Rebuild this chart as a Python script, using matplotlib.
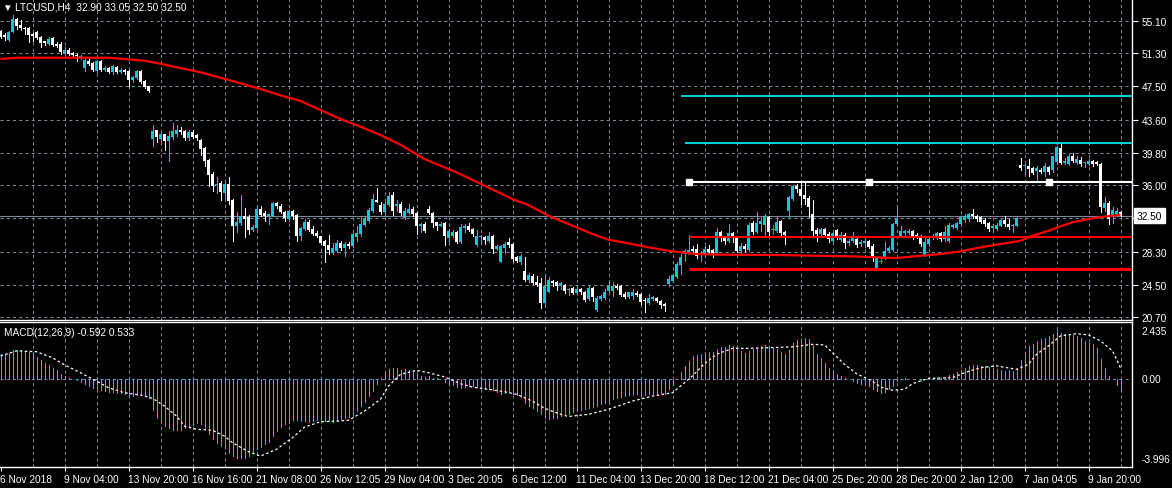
import numpy as np
import matplotlib
matplotlib.use("Agg")
import matplotlib.pyplot as plt
from matplotlib.patches import Rectangle

# ---------------- data (LTCUSD H4) ----------------
opens = [53.95, 53.45, 52.90, 53.83, 55.30, 54.60, 54.29, 54.29, 53.56, 53.75,
         53.17, 52.71, 52.44, 53.06, 52.44, 52.44, 51.36, 51.74, 51.36, 51.16,
         50.82, 49.58, 50.47, 50.16, 49.31, 50.47, 49.42, 49.58, 49.11, 49.77,
         49.19, 49.35, 49.27, 48.19, 48.50, 49.31, 48.15, 47.49, 41.38, 42.39,
         41.38, 41.92, 41.19, 41.58, 41.92, 42.47, 42.31, 41.46, 42.23, 41.85,
         41.31, 40.30, 38.99, 37.36, 36.05, 36.28, 35.12, 36.16, 34.34, 31.33,
         31.64, 32.49, 32.33, 30.86, 31.10, 33.26, 32.76, 32.49, 32.49, 33.96,
         33.65, 32.95, 32.10, 33.03, 32.57, 30.17, 30.94, 31.79, 30.94, 30.48,
         30.09, 29.55, 29.09, 28.16, 28.39, 29.32, 28.70, 29.24, 28.93, 29.97,
         30.36, 31.41, 31.91, 33.07, 34.31, 33.73, 32.95, 33.73, 34.89, 33.57,
         33.84, 32.18, 32.80, 33.26, 32.80, 31.25, 31.56, 33.26, 32.80, 31.72,
         31.33, 31.64, 29.94, 30.09, 30.63, 29.47, 31.02, 31.33, 30.94, 29.09,
         30.01, 30.01, 29.59, 30.17, 28.62, 27.15, 28.70, 29.40, 29.20, 27.65,
         27.08, 26.11, 25.06, 25.53, 24.83, 24.68, 22.36, 23.67, 24.91, 24.83,
         24.29, 24.45, 23.83, 24.06, 23.52, 23.98, 23.67, 22.82, 24.14, 21.59,
         22.82, 22.98, 23.79, 23.79, 24.37, 24.29, 23.40, 23.05, 23.21, 23.52,
         23.40, 22.74, 22.36, 22.82, 22.98, 22.59, 22.20, 24.56, 24.95, 25.33,
         26.80, 28.04, 28.12, 28.62, 28.62, 27.97, 27.97, 28.62, 28.51, 28.12,
         30.55, 29.97, 29.59, 30.44, 30.05, 28.35, 29.01, 28.51, 31.60, 30.55,
         31.52, 31.44, 32.29, 30.94, 30.75, 31.83, 30.55, 33.07, 34.42, 35.97,
         35.58, 34.92, 34.54, 32.68, 30.83, 30.36, 30.94, 30.36, 29.59, 30.83,
         29.67, 30.28, 29.28, 29.51, 29.78, 29.20, 29.36, 29.51, 29.01, 26.42,
         27.27, 27.65, 28.43, 28.51, 31.52, 30.17, 30.48, 30.48, 30.75, 30.25,
         30.09, 27.93, 29.20, 29.94, 29.98, 30.48, 29.78, 29.59, 31.14, 31.10,
         31.52, 32.02, 32.10, 32.68, 32.49, 32.29, 32.02, 31.64, 31.02, 30.94,
         31.33, 32.02, 31.52, 31.25, 31.33, 38.36, 38.21, 38.29, 37.98, 37.71,
         37.82, 37.51, 38.09, 37.82, 38.67, 40.30, 38.60, 38.48, 39.45, 38.60,
         38.98, 38.60, 38.48, 38.87, 38.67, 38.48, 33.34, 33.96, 32.29, 32.68,
         32.90]
highs = [54.06, 53.68, 53.95, 55.76, 55.38, 55.22, 54.33, 54.33, 53.68, 53.91,
         53.29, 52.79, 53.21, 53.21, 52.59, 52.59, 52.01, 51.98, 51.51, 51.24,
         51.13, 50.66, 50.66, 50.27, 50.58, 50.55, 49.81, 49.73, 49.97, 49.89,
         49.66, 49.50, 49.35, 48.73, 49.35, 49.39, 48.26, 47.57, 43.01, 42.47,
         42.31, 42.00, 42.31, 43.24, 43.01, 42.77, 42.47, 42.47, 42.39, 42.00,
         41.38, 40.42, 39.06, 37.52, 36.94, 36.55, 36.28, 36.94, 34.42, 32.87,
         34.89, 33.34, 32.57, 31.41, 33.57, 33.57, 33.03, 32.72, 34.04, 34.11,
         33.80, 33.03, 33.11, 33.18, 32.68, 31.14, 32.10, 32.02, 31.33, 30.71,
         30.17, 29.71, 30.25, 29.32, 29.71, 29.55, 29.47, 29.40, 30.48, 31.25,
         32.29, 32.41, 33.34, 35.00, 35.66, 34.04, 34.11, 35.20, 35.27, 34.34,
         34.04, 33.34, 33.84, 33.46, 32.95, 31.64, 31.72, 33.65, 32.95, 31.79,
         31.79, 31.79, 30.94, 30.79, 30.71, 31.52, 31.52, 31.64, 31.02, 30.86,
         30.25, 30.09, 30.56, 30.25, 29.09, 29.09, 29.40, 29.86, 29.32, 27.85,
         28.04, 27.65, 25.84, 25.68, 25.45, 25.22, 25.72, 25.33, 24.99, 24.95,
         24.76, 24.56, 24.14, 24.21, 24.29, 24.14, 23.79, 24.29, 24.21, 23.13,
         23.29, 23.98, 24.83, 24.76, 24.56, 24.45, 23.59, 23.67, 23.98, 23.79,
         23.52, 22.98, 23.40, 23.21, 23.09, 22.74, 22.36, 25.45, 25.72, 27.15,
         28.04, 28.62, 30.28, 29.01, 29.20, 28.35, 29.01, 29.12, 28.62, 31.06,
         30.75, 30.17, 31.52, 30.55, 30.17, 29.28, 29.20, 31.60, 31.91, 32.87,
         32.29, 32.68, 32.49, 31.44, 32.29, 31.98, 30.75, 34.81, 36.08, 36.16,
         36.24, 36.35, 34.77, 34.31, 31.06, 31.02, 31.06, 30.55, 30.55, 30.90,
         30.55, 30.44, 29.78, 30.55, 29.97, 29.67, 29.78, 29.67, 29.20, 27.73,
         27.58, 29.39, 29.01, 31.60, 33.38, 31.33, 30.87, 30.94, 30.87, 30.48,
         30.25, 29.98, 29.98, 30.32, 30.63, 30.63, 31.33, 31.64, 31.52, 31.79,
         32.41, 32.68, 32.80, 33.26, 32.57, 32.41, 32.18, 31.79, 31.52, 31.64,
         32.18, 32.41, 32.10, 31.52, 32.29, 39.14, 38.60, 39.06, 38.09, 38.21,
         37.98, 38.60, 38.29, 39.45, 40.61, 40.80, 39.14, 39.64, 39.76, 39.37,
         39.25, 38.75, 39.06, 38.98, 38.87, 38.56, 34.61, 34.23, 33.46, 33.34,
         33.05]
lows = [53.06, 52.90, 52.79, 53.75, 54.14, 54.06, 53.56, 52.59, 52.79, 52.98,
        52.01, 52.32, 52.28, 52.13, 52.01, 51.24, 51.24, 51.13, 50.97, 50.47,
        50.66, 49.31, 49.97, 49.27, 49.11, 49.27, 49.27, 49.04, 48.88, 49.04,
        49.04, 48.92, 47.49, 48.03, 48.34, 47.88, 47.30, 46.87, 40.61, 41.00,
        41.19, 40.15, 38.83, 41.38, 41.77, 42.00, 41.31, 41.31, 41.46, 41.31,
        39.53, 38.21, 35.97, 35.39, 35.12, 34.35, 34.42, 33.84, 29.59, 30.63,
        31.41, 29.97, 30.36, 30.75, 30.94, 32.49, 31.91, 31.56, 32.41, 33.34,
        32.80, 31.91, 31.87, 32.10, 29.59, 29.63, 30.79, 30.71, 30.25, 30.01,
        29.20, 27.15, 28.00, 28.00, 28.24, 28.55, 27.85, 28.70, 28.82, 29.59,
        30.09, 31.25, 31.79, 32.95, 34.04, 32.68, 32.49, 33.57, 32.57, 33.07,
        32.57, 32.10, 32.68, 32.49, 30.36, 30.56, 30.63, 32.68, 31.14, 30.79,
        31.25, 29.09, 29.59, 29.97, 29.32, 29.32, 30.56, 30.75, 30.17, 29.01,
        29.40, 29.20, 29.40, 28.16, 28.55, 27.08, 28.16, 28.81, 27.27, 27.08,
        26.88, 24.95, 24.83, 24.52, 24.29, 21.82, 22.24, 23.59, 24.37, 23.90,
        23.98, 23.52, 23.29, 23.40, 23.40, 23.44, 22.63, 22.74, 22.63, 21.47,
        22.74, 22.82, 23.67, 23.13, 23.98, 23.13, 22.90, 22.98, 22.82, 23.13,
        22.24, 21.27, 22.28, 22.74, 22.44, 21.82, 21.43, 24.29, 24.76, 25.22,
        25.72, 27.27, 28.04, 28.04, 27.58, 27.27, 27.81, 28.04, 27.73, 27.97,
        29.59, 29.20, 29.43, 29.40, 28.24, 28.20, 28.35, 28.35, 30.36, 30.44,
        30.75, 30.17, 30.17, 30.36, 30.59, 30.28, 29.20, 32.37, 34.31, 35.20,
        33.84, 33.84, 32.29, 30.17, 29.59, 30.17, 30.17, 29.40, 29.40, 29.74,
        29.51, 28.74, 29.12, 29.40, 28.89, 29.01, 28.89, 28.74, 27.19, 26.30,
        27.04, 27.46, 28.35, 28.35, 31.44, 29.97, 30.25, 30.36, 29.78, 29.86,
        29.01, 27.85, 29.01, 29.78, 29.78, 29.59, 29.59, 29.47, 31.02, 30.94,
        31.33, 31.72, 31.91, 32.18, 31.87, 31.64, 31.33, 30.75, 30.56, 30.87,
        31.25, 31.33, 30.94, 30.63, 31.25, 37.82, 37.32, 37.05, 37.32, 36.55,
        37.44, 37.13, 37.32, 37.59, 38.48, 38.48, 38.48, 38.36, 38.67, 38.48,
        38.29, 38.10, 38.36, 38.21, 38.36, 32.87, 33.07, 31.52, 31.64, 32.41,
        32.50]
closes = [53.17, 53.17, 53.83, 55.30, 54.53, 54.22, 54.14, 53.45, 53.37, 53.14,
          52.52, 52.52, 52.98, 52.28, 52.21, 51.51, 51.74, 51.24, 51.13, 50.97,
          51.05, 50.58, 50.08, 49.39, 50.47, 49.42, 49.58, 49.19, 49.81, 49.19,
          49.39, 49.19, 48.26, 48.57, 49.27, 48.03, 47.41, 46.99, 42.35, 41.62,
          41.92, 41.15, 41.77, 42.31, 42.47, 42.16, 41.46, 42.23, 41.62, 41.46,
          40.22, 38.87, 37.21, 35.97, 36.16, 35.27, 36.16, 34.23, 31.33, 31.79,
          32.49, 32.10, 30.86, 31.17, 33.26, 32.57, 32.49, 32.64, 33.96, 33.57,
          32.87, 32.18, 33.03, 32.49, 30.17, 31.02, 31.79, 30.86, 30.40, 30.17,
          29.32, 28.93, 28.55, 28.70, 29.32, 28.70, 29.24, 28.93, 30.36, 30.48,
          31.52, 32.10, 33.15, 34.42, 34.11, 32.87, 33.84, 34.81, 33.07, 33.84,
          32.80, 33.07, 33.26, 32.68, 31.25, 31.52, 30.71, 32.80, 31.64, 31.25,
          31.52, 30.09, 30.71, 30.63, 29.47, 31.17, 31.25, 30.86, 30.32, 30.17,
          30.17, 29.70, 30.17, 28.62, 28.93, 29.01, 29.24, 29.09, 27.46, 27.27,
          27.77, 25.06, 25.61, 24.68, 24.45, 22.36, 24.29, 25.06, 24.68, 24.29,
          24.68, 23.75, 23.98, 23.52, 23.98, 23.59, 22.74, 24.14, 23.02, 22.98,
          23.21, 23.67, 24.29, 24.37, 24.14, 23.29, 23.05, 23.59, 23.67, 23.29,
          22.51, 22.59, 22.98, 23.05, 22.59, 22.13, 22.05, 25.14, 25.61, 26.92,
          27.65, 28.35, 28.51, 28.35, 27.85, 28.12, 28.62, 28.24, 28.12, 30.55,
          30.05, 29.59, 30.44, 30.05, 28.35, 29.01, 28.62, 31.44, 30.55, 31.60,
          31.83, 32.49, 30.55, 30.94, 31.71, 30.44, 30.28, 34.61, 35.97, 35.58,
          34.81, 34.42, 33.53, 30.75, 30.36, 30.94, 30.28, 29.78, 30.44, 29.90,
          30.28, 29.28, 29.51, 29.90, 29.12, 29.47, 29.59, 28.89, 27.73, 27.58,
          27.27, 28.43, 28.74, 31.52, 32.10, 30.75, 30.75, 30.75, 30.17, 30.09,
          29.20, 29.47, 29.78, 30.17, 30.48, 29.78, 30.56, 31.41, 31.41, 31.64,
          32.29, 32.41, 32.68, 32.41, 32.10, 31.79, 31.52, 30.94, 31.33, 31.41,
          32.02, 31.52, 31.14, 31.41, 32.18, 37.98, 38.36, 37.90, 37.44, 37.98,
          37.59, 38.21, 37.59, 39.37, 40.41, 38.60, 38.87, 39.45, 38.87, 39.06,
          38.48, 38.67, 38.87, 38.48, 38.44, 33.46, 33.96, 32.10, 33.18, 33.07,
          32.50]

# moving average (read at vertices)
ma_bars = [0, 4, 27, 32, 36, 40, 45, 50, 55, 60, 65, 70, 75, 80, 85, 90, 95, 100,
           106, 114, 128, 132, 137, 144, 148, 152, 157, 162, 167, 170, 174, 181,
           194, 204, 213, 219, 224, 230, 235, 240, 245, 250, 255, 258, 262, 265,
           268, 272, 275, 280]
ma_vals = [50.66, 50.81, 50.81, 50.62, 50.46, 50.11, 49.61, 49.12, 48.49, 47.84,
           47.18, 46.45, 45.79, 44.74, 43.70, 42.81, 41.84, 40.72, 39.06, 37.52,
           34.42, 33.72, 32.48, 31.14, 30.36, 29.70, 29.28, 28.82, 28.42, 28.24,
           28.04, 27.96, 27.93, 27.84, 27.77, 27.66, 27.58, 27.84, 28.04, 28.35,
           28.82, 29.20, 29.58, 30.16, 30.74, 31.25, 31.72, 32.10, 32.33, 32.60]

# MACD histogram (main line) per bar
macd_hist = [1.21, 1.24, 1.29, 1.41, 1.44, 1.41, 1.38, 1.31, 1.21, 1.08,
             0.91, 0.79, 0.68, 0.54, 0.41, 0.24, 0.13, 0.01, -0.04, -0.09,
             -0.16, -0.29, -0.38, -0.46, -0.54, -0.59, -0.63, -0.66, -0.69, -0.71,
             -0.73, -0.76, -0.83, -0.86, -0.83, -0.76, -0.83, -0.96, -1.59, -1.96,
             -2.13, -2.38, -2.49, -2.59, -2.59, -2.56, -2.46, -2.43, -2.33, -2.21,
             -2.29, -2.49, -2.76, -3.04, -3.21, -3.38, -3.49, -3.71, -3.88, -3.96,
             -3.996, -3.96, -3.88, -3.71, -3.54, -3.43, -3.29, -3.16, -2.88, -2.63,
             -2.43, -2.29, -2.21, -2.09, -2.09, -2.13, -2.13, -2.16, -2.13, -2.09,
             -2.09, -2.13, -2.13, -2.16, -2.13, -2.04, -1.99, -1.93, -1.79, -1.63,
             -1.38, -1.16, -0.88, -0.63, -0.26, 0.01, 0.38, 0.46, 0.54, 0.51,
             0.41, 0.46, 0.41, 0.38, 0.24, 0.13, 0.08, 0.13, 0.04, 0.01,
             -0.04, -0.16, -0.26, -0.33, -0.43, -0.46, -0.43, -0.38, -0.38, -0.43,
             -0.46, -0.54, -0.54, -0.59, -0.66, -0.76, -0.71, -0.66, -0.76, -0.83,
             -0.93, -1.21, -1.38, -1.49, -1.63, -1.79, -1.96, -2.04, -1.99, -1.96,
             -1.88, -1.79, -1.76, -1.66, -1.63, -1.59, -1.54, -1.49, -1.43, -1.38,
             -1.29, -1.21, -1.13, -1.04, -0.99, -0.93, -0.88, -0.83, -0.83, -0.79,
             -0.83, -0.83, -0.79, -0.76, -0.76, -0.71, -0.76, -0.54, -0.33, 0.00,
             0.34, 0.63, 0.88, 1.13, 1.18, 1.21, 1.29, 1.34, 1.34, 1.46,
             1.58, 1.58, 1.68, 1.63, 1.54, 1.38, 1.29, 1.38, 1.46, 1.54,
             1.63, 1.68, 1.58, 1.51, 1.46, 1.34, 1.21, 1.41, 1.79, 1.91,
             1.96, 2.04, 1.96, 1.68, 1.24, 1.04, 0.79, 0.54, 0.41, 0.24,
             0.13, 0.04, -0.04, -0.13, -0.21, -0.26, -0.29, -0.38, -0.54, -0.63,
             -0.71, -0.66, -0.54, -0.38, -0.13, -0.04, 0.01, 0.00, -0.02, -0.03,
             -0.05, -0.03, 0.00, 0.02, 0.05, 0.05, 0.10, 0.18, 0.24, 0.34,
             0.41, 0.51, 0.63, 0.68, 0.68, 0.63, 0.63, 0.58, 0.54, 0.46,
             0.41, 0.38, 0.41, 0.38, 0.46, 0.91, 1.29, 1.63, 1.71, 1.88,
             1.96, 2.04, 2.13, 2.21, 2.435, 2.29, 2.24, 2.21, 2.18, 2.13,
             2.04, 1.88, 1.79, 1.71, 1.54, 0.96, 0.54, 0.13, -0.04, -0.33,
             -0.592]

# MACD signal line (read at vertices)
signal_bars = [0, 4, 9, 13, 16, 20, 24, 27, 31, 35, 38, 41, 44, 46, 49, 53, 56, 58,
               62, 65, 69, 73, 76, 80, 84, 87, 91, 95, 97, 100, 104, 107, 111, 115,
               118, 122, 126, 129, 133, 136, 140, 142, 147, 152, 158, 163, 168, 170,
               173, 176, 179, 183, 187, 192, 198, 203, 206, 208, 211, 214, 218, 220,
               223, 226, 228, 232, 238, 241, 245, 249, 254, 257, 259, 262, 265, 269,
               272, 275, 278, 280]
signal_vals = [1.13, 1.38, 1.34, 1.04, 0.68, 0.29, -0.13, -0.46, -0.71, -0.83,
               -0.99, -1.38, -1.88, -2.38, -2.54, -2.59, -2.88, -3.21, -3.66, -3.88,
               -3.54, -2.96, -2.43, -2.16, -2.13, -2.09, -1.63, -1.04, -0.38, 0.21,
               0.41, 0.29, 0.08, -0.26, -0.43, -0.54, -0.66, -0.79, -1.13, -1.49,
               -1.79, -1.90, -1.79, -1.54, -1.13, -0.88, -0.71, -0.38, 0.13, 0.74,
               1.21, 1.51, 1.51, 1.54, 1.58, 1.71, 1.68, 1.29, 0.71, 0.24,
               -0.13, -0.43, -0.59, -0.54, -0.26, 0.01, 0.04, 0.29, 0.54, 0.63,
               0.46, 0.71, 1.21, 1.63, 2.13, 2.24, 2.18, 1.88, 1.38, 0.533]

# horizontal objects
cyan_levels = [46.40, 40.93]
cyan_start = [170, 171]
white_level = 36.45
white_start = 172
white_anchor_bars = [172, 217, 262]
red_levels = [30.05, 26.26]
red_widths = [1.5, 2.2]
red_start = 172
last_price = 32.50

price_ticks = [55.10, 51.30, 47.50, 43.60, 39.80, 36.00, 32.20, 28.30, 24.50, 20.70]
price_labels = ["55.10", "51.30", "47.50", "43.60", "39.80", "36.00", "", "28.30", "24.50", "20.70"]
macd_ticks = [2.435, 0.0, -3.996]
macd_labels = ["2.435", "0.00", "-3.996"]
time_tick_bars = [0, 16, 32, 48, 64, 80, 96, 112, 128, 144, 160, 176, 192, 208, 224, 240, 256, 272]
time_labels = ["6 Nov 2018", "9 Nov 04:00", "13 Nov 20:00", "16 Nov 16:00", "21 Nov 08:00",
               "26 Nov 12:05", "29 Nov 04:00", "3 Dec 20:05", "6 Dec 12:00", "11 Dec 04:00",
               "13 Dec 20:00", "18 Dec 12:00", "21 Dec 04:00", "25 Dec 20:00", "28 Dec 20:00",
               "2 Jan 12:00", "7 Jan 04:05", "9 Jan 20:00"]

# ---------------- styling ----------------
W, H = 1172, 489
BULL = '#00CED1'
BEAR = '#FFFFFF'
DOJI = '#00C000'
GRID = '#778899'
FONT = ['Liberation Sans', 'DejaVu Sans']
plt.rcParams['font.family'] = FONT
PX = 0.72  # one pixel in points at 100 dpi

fig = plt.figure(figsize=(W / 100, H / 100), dpi=100, facecolor='black')


def fx(px):
    return px / W


def fy(py):
    return 1 - py / H


ax = fig.add_axes([0, fy(321), fx(1132), 321 / H], facecolor='black')
mx = fig.add_axes([0, fy(468), fx(1132), (468 - 323) / H], facecolor='black')

XMIN, XMAX = -0.125, 282.875
for a in (ax, mx):
    a.set_xlim(XMIN, XMAX)
    for s in ('left', 'top'):
        a.spines[s].set_visible(False)
    for s in ('right', 'bottom'):
        a.spines[s].set_color('white')
        a.spines[s].set_linewidth(1.0)
mx.spines['top'].set_visible(True)
mx.spines['top'].set_color('white')
mx.spines['top'].set_linewidth(1.0)

ax.set_ylim(20.39, 57.62)
mx.set_ylim(-4.425, 2.825)

dash = (0, (3, 3))
# vertical grid
for a in (ax, mx):
    for b in range(8, 281, 8):
        a.axvline(b, color=GRID, lw=0.75, ls=dash, zorder=0)
# horizontal grid main
for p in price_ticks:
    ax.axhline(p, color=GRID, lw=0.75, ls=dash, zorder=0)
mx.axhline(0, color=GRID, lw=0.75, ls=dash, zorder=0)

# last price line
ax.axhline(last_price, color=GRID, lw=0.8, zorder=1)

# candles
for i, (o, h, l, c) in enumerate(zip(opens, highs, lows, closes)):
    if c > o:
        col = BULL
    elif c < o:
        col = BEAR
    else:
        col = DOJI
    ax.vlines(i, l, h, color=col, lw=PX, zorder=2, antialiased=False)
    if c == o:
        ax.hlines(o, i - 0.45, i + 0.45, color=col, lw=PX, zorder=2, antialiased=False)
    else:
        ax.add_patch(Rectangle((i - 0.375, min(o, c)), 0.75, max(abs(c - o), 0.12),
                               facecolor=col, edgecolor='none', zorder=2, antialiased=False))

# MA
ax.plot(ma_bars, ma_vals, color='#FF0000', lw=1.6, zorder=4, solid_capstyle='butt')

# horizontal objects
for lev, st in zip(cyan_levels, cyan_start):
    ax.hlines(lev, st, XMAX, color=BULL, lw=1.5, zorder=3)
ax.hlines(white_level, white_start, XMAX, color='white', lw=1.5, zorder=3)
ax.plot(white_anchor_bars, [white_level] * len(white_anchor_bars), ls='none', marker='s',
        ms=4.5, mfc='white', mec='white', zorder=5)
for lev, lw in zip(red_levels, red_widths):
    ax.hlines(lev, red_start, XMAX, color='#FF0000', lw=lw, zorder=3)

# MACD
bars = np.arange(len(macd_hist))
mx.vlines(bars, 0, macd_hist, color=BULL, lw=PX, zorder=2, antialiased=False)
mx.plot(signal_bars, signal_vals, color='white', lw=0.9, ls=(0, (2, 2)), zorder=3)

# ticks & labels
ax.yaxis.tick_right()
ax.set_yticks(price_ticks)
ax.set_yticklabels(price_labels)
ax.set_xticks([])
ax.tick_params(axis='y', colors='white', length=4, width=0.8, labelsize=7.3, pad=3)

mx.yaxis.tick_right()
mx.set_yticks(macd_ticks)
mx.set_yticklabels(macd_labels)
mx.tick_params(axis='y', colors='white', length=0, labelsize=7.3, pad=7)
mx.set_xticks(time_tick_bars)
mx.set_xticklabels(time_labels)
mx.tick_params(axis='x', colors='white', length=3, width=0.8, labelsize=7.3, pad=2)
for lbl in mx.get_xticklabels():
    lbl.set_horizontalalignment('left')

# texts
fig.text(fx(2.5), fy(7.5), '\u25BC', color='white', fontsize=7, va='center', ha='left', family=FONT)
fig.text(fx(15), fy(7.5), 'LTCUSD,H4  32.90 33.05 32.50 32.50', color='white', fontsize=7.3,
         va='center', ha='left')
fig.text(fx(4), fy(333), 'MACD(12,26,9) -0.592 0.533', color='white', fontsize=7.3,
         va='center', ha='left')
fig.text(fx(1136.5), fy(216.6), '32.50', color='black', fontsize=7.3, va='center', ha='left',
         bbox=dict(boxstyle='square,pad=0.28', fc='white', ec='white'))

fig.savefig('out.png', dpi=100, facecolor='black')
